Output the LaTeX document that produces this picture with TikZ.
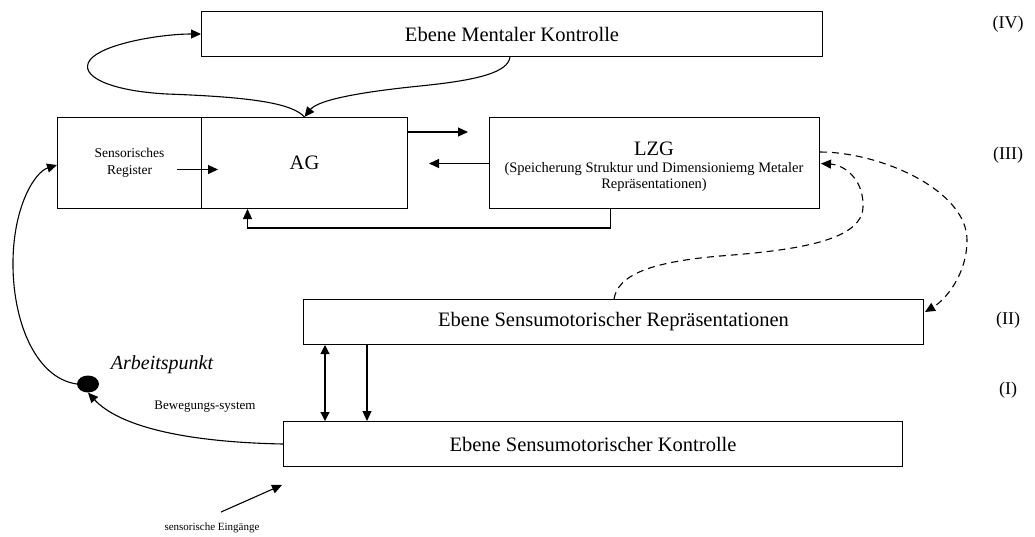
\documentclass[tikz,border=0pt]{standalone}
\usepackage{fontspec}
\setmainfont{Liberation Serif}
\usetikzlibrary{arrows.meta,calc,shapes.geometric}
\begin{document}
\begin{tikzpicture}[x=1pt,y=-1pt,
  font=\fontsize{20.5}{24}\selectfont,
  level/.style={draw, line width=1pt, inner sep=0pt, anchor=north west, minimum height=45pt},
  block/.style={level, minimum height=91pt},
  flow/.style={line width=1.1pt, -{Triangle[length=10pt,width=9pt]}},
  dashlink/.style={line width=1.1pt, dash pattern=on 7pt off 5pt, -{Triangle[length=10pt,width=9pt]}},
  both/.style={line width=1.1pt, {Triangle[length=9pt,width=9pt]}-{Triangle[length=9pt,width=9pt]}},
  small/.style={font=\fontsize{13.5}{17}\selectfont},
  note/.style={font=\fontsize{13}{15}\selectfont},
  numeral/.style={font=\fontsize{18}{20}\selectfont}]
\useasboundingbox (0,0) rectangle (1035,536);

% levels and memory blocks
\node[level, minimum width=621pt] (mk) at (201,11) {Ebene Mentaler Kontrolle};
\node[block, minimum width=144pt, align=center, small] (reg) at (57,117) {Sensorisches\\Register};
\node[block, minimum width=206pt] (ag) at (201,117) {AG};
\node[block, minimum width=330pt] (lzg) at (489,117) {};
\node (lzgtitle) at (654,149) {LZG};
\node[align=center, font=\fontsize{14.5}{15.5}\selectfont] (lzgsub) at (654,177)
  {(Speicherung Struktur und Dimensioniemg Metaler\\Repräsentationen)};
\node[level, minimum width=620pt] (repr) at (303,299) {Ebene Sensumotorischer Repräsentationen};
\node[level, minimum width=619pt] (kon) at (283,421) {Ebene Sensumotorischer Kontrolle};

% level numerals
\node[numeral] (n4) at (1008,24) {(IV)};
\node[numeral] (n3) at (1008,155) {(III)};
\node[numeral] (n2) at (1008,320) {(II)};
\node[numeral] (n1) at (1008,390) {(I)};

% working point
\node[ellipse, fill, minimum width=22pt, minimum height=17pt, inner sep=0pt] (dot) at (88,384) {};
\node[font=\itshape\fontsize{20}{24}\selectfont] (apt) at (162,365) {Arbeitspunkt};
\node[note] (bew) at (205,407) {Bewegungs-system};
\node[font=\fontsize{11}{13}\selectfont] (sein) at (212,528) {sensorische Eingänge};
\coordinate (seinstart) at (221,512);

% mental control loop
\draw[flow] ($(mk.south west)+(309,0)$) .. controls (508,72) and (480,80) .. (420,86)
  .. controls (360,92) and (318,100) .. (ag.north);
\draw[flow] (ag.north) .. controls (292,103) and (250,97) .. (167,94)
  .. controls (110,91) and (78,76) .. (90,60)
  .. controls (102,44) and (160,34) .. (mk.west);

% working memory <-> long-term memory
\draw[flow] ($(ag.north east)+(0,15)$) -- ($(lzg.north west)+(-21,15)$);
\draw[flow] ($(lzg.west)+(0,0.5)$) -- ($(ag.east)+(21,0.5)$);
\draw[flow] ($(reg.east)+(-25,6.5)$) -- ($(reg.east)+(16,6.5)$);
\draw[flow] ($(lzg.south)+(-44,0)$) -- ++(0,19) -| ($(ag.south)+(-57,0)$);

% sensorimotor levels
\coordinate (d1) at ($(repr.south west)+(22,0)$);
\coordinate (d2) at ($(repr.south west)+(64,0)$);
\draw[both] (d1) -- (d1 |- kon.north);
\draw[flow] (d2) -- (d2 |- kon.north);

% dashed links between LZG and representations
\draw[dashlink] ($(lzg.north east)+(0,35)$) .. controls (880,152) and (967,190) .. (967,240)
  .. controls (967,275) and (945,300) .. ($(repr.north east)+(1,13)$);
\draw[dashlink] ($(repr.north west)+(311,0)$) .. controls (618,275) and (650,262) .. (720,256)
  .. controls (800,250) and (862,240) .. (863,207)
  .. controls (864,180) and (845,165) .. ($(lzg.east)+(1,0.5)$);

% motor output and sensory input
\draw[flow] (kon.west) .. controls (180,442) and (118,425) .. (dot.south);
\draw[flow] (dot.west) .. controls (35,378) and (12,320) .. (13,260)
  .. controls (14,205) and (35,172) .. ($(reg.west)+(0,2)$);
\draw[flow] (seinstart) -- ($(kon.south west)+(-1,18)$);
\end{tikzpicture}
\end{document}
